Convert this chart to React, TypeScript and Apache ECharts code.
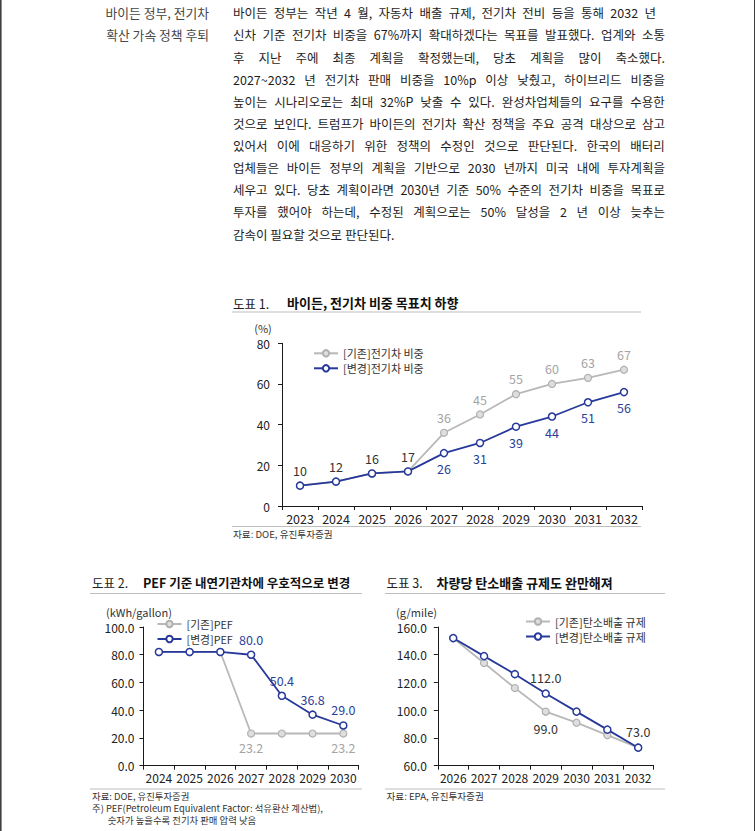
import React, { useEffect, useRef } from "react";
import * as echarts from "echarts";

const FONT = '"Noto Sans CJK KR", "Noto Sans", sans-serif';

const headingLines = ["바이든 정부, 전기차", "확산 가속 정책 후퇴"];
const paraLines = [
  "바이든 정부는 작년 4 월, 자동차 배출 규제, 전기차 전비 등을 통해 2032 년",
  "신차 기준 전기차 비중을 67%까지 확대하겠다는 목표를 발표했다. 업계와 소통",
  "후 지난 주에 최종 계획을 확정했는데, 당초 계획을 많이 축소했다.",
  "2027~2032 년 전기차 판매 비중을 10%p 이상 낮췄고, 하이브리드 비중을",
  "높이는 시나리오로는 최대 32%P 낮출 수 있다. 완성차업체들의 요구를 수용한",
  "것으로 보인다. 트럼프가 바이든의 전기차 확산 정책을 주요 공격 대상으로 삼고",
  "있어서 이에 대응하기 위한 정책의 수정인 것으로 판단된다. 한국의 배터리",
  "업체들은 바이든 정부의 계획을 기반으로 2030 년까지 미국 내에 투자계획을",
  "세우고 있다. 당초 계획이라면 2030년 기준 50% 수준의 전기차 비중을 목표로",
  "투자를 했어야 하는데, 수정된 계획으로는 50% 달성을 2 년 이상 늦추는",
  "감속이 필요할 것으로 판단된다.",
];

// Chart 1
const years1 = ["2023", "2024", "2025", "2026", "2027", "2028", "2029", "2030", "2031", "2032"];
const evOld = [10, 12, 16, 17, 36, 45, 55, 60, 63, 67];
const evNew = [10, 12, 16, 17, 26, 31, 39, 44, 51, 56];
const yTicks1 = { min: 0, max: 80, interval: 20 };

// Chart 2
const years2 = ["2024", "2025", "2026", "2027", "2028", "2029", "2030"];
const pefOld = [82, 82, 82, 23.2, 23.2, 23.2, 23.2];
const pefNew = [82, 82, 82, 80.0, 50.4, 36.8, 29.0];
const yTicks2 = { min: 0, max: 100, interval: 20 };

// Chart 3
const years3 = ["2026", "2027", "2028", "2029", "2030", "2031", "2032"];
const co2Old = [152, 134, 116, 99, 91, 82, 73];
const co2New = [152, 139, 126, 112, 99, 86, 73];
const yTicks3 = { min: 60, max: 160, interval: 20 };

const note2Lines = [
  "자료: DOE, 유진투자증권",
  "주) PEF(Petroleum Equivalent Factor: 석유환산 계산법),",
  "\u3000   숫자가 높을수록 전기차 판매 압력 낮음",
];

const GRAY_LINE = "#b8b8b8";
const GRAY_FILL = "#dedede";
const GRAY_BORDER = "#b0b0b0";
const NAVY = "#27399a";
const LABEL_GRAY = "#a4a4a4";
const LABEL_NAVY = "#2b3f9b";
const DARK = "#333333";
const RULE = "#bdbdbd";

function txt(text: string, x: number, y: number, size: number, opts: any = {}) {
  return {
    type: "text",
    silent: true,
    x,
    y,
    style: {
      text,
      fontSize: size,
      fontFamily: FONT,
      fontWeight: opts.bold ? "bold" : "normal",
      fill: opts.color || "#222",
      align: opts.align || "left",
      verticalAlign: opts.valign || "middle",
      lineHeight: opts.lineHeight || Math.round(size * 1.15),
    },
  };
}
function hline(x1: number, x2: number, y: number) {
  return {
    type: "line",
    silent: true,
    shape: { x1, y1: y, x2, y2: y },
    style: { stroke: RULE, lineWidth: 1 },
  };
}

function xAxisCfg(gridIndex: number, data: string[], margin: number, size: number) {
  return {
    type: "category",
    gridIndex,
    data,
    boundaryGap: true,
    axisLine: { show: true, lineStyle: { color: "#1a1a1a", width: 1 } },
    axisTick: { show: true, length: 4, lineStyle: { color: "#1a1a1a" } },
    axisLabel: { color: "#222", fontSize: size, fontFamily: FONT, margin, interval: 0 },
    splitLine: { show: false },
  };
}
function yAxisCfg(gridIndex: number, t: any, margin: number, fmt?: (v: number) => string) {
  return {
    type: "value",
    gridIndex,
    min: t.min,
    max: t.max,
    interval: t.interval,
    axisLine: { show: true, lineStyle: { color: "#1a1a1a", width: 1 } },
    axisTick: { show: true, length: 4, lineStyle: { color: "#1a1a1a" } },
    axisLabel: {
      color: "#222",
      fontSize: 12,
      fontFamily: FONT,
      margin,
      formatter: fmt ? (v: number) => fmt(v) : undefined,
    },
    splitLine: { show: false },
  };
}

const grayStyle = {
  type: "line",
  symbol: "circle",
  symbolSize: 7,
  lineStyle: { color: GRAY_LINE, width: 1.8 },
  itemStyle: { color: GRAY_FILL, borderColor: GRAY_BORDER, borderWidth: 1.2 },
  z: 2,
  silent: true,
  emphasis: { disabled: true },
};
const navyStyle = {
  type: "line",
  symbol: "circle",
  symbolSize: 7,
  lineStyle: { color: NAVY, width: 1.8 },
  itemStyle: { color: "#ffffff", borderColor: NAVY, borderWidth: 1.5 },
  z: 3,
  silent: true,
  emphasis: { disabled: true },
};

function legendCfg(names: string[], left: number, top: number, gap: number, size: number) {
  return {
    data: names,
    orient: "vertical",
    left,
    top,
    padding: 0,
    itemWidth: 24,
    itemHeight: 8,
    itemGap: gap,
    selectedMode: false,
    textStyle: { fontSize: size, color: DARK, fontFamily: FONT, lineHeight: 11 },
  };
}

function buildOption() {
  const f1 = (v: number) => v.toFixed(1);
  return {
    animation: false,
    textStyle: { fontFamily: FONT },
    legend: [
      legendCfg(["[기존]전기차 비중", "[변경]전기차 비중"], 313, 347.8, 4, 11),
      legendCfg(["[기존]PEF", "[변경]PEF"], 156.5, 618.5, 4, 10.8),
      legendCfg(["[기존]탄소배출 규제", "[변경]탄소배출 규제"], 525, 616, 4, 11),
    ],
    grid: [
      { left: 282, top: 343.3, width: 360, height: 162.7, outerBoundsMode: "none" },
      { left: 143.5, top: 627, width: 215.2, height: 138.7, outerBoundsMode: "none" },
      { left: 437.8, top: 627, width: 215.8, height: 138.7, outerBoundsMode: "none" },
    ],
    xAxis: [xAxisCfg(0, years1, 6, 12.5), xAxisCfg(1, years2, 6, 12), xAxisCfg(2, years3, 6, 12)],
    yAxis: [yAxisCfg(0, yTicks1, 12), yAxisCfg(1, yTicks2, 9, f1), yAxisCfg(2, yTicks3, 11, f1)],
    series: [
      {
        ...grayStyle,
        name: "[기존]전기차 비중",
        xAxisIndex: 0,
        yAxisIndex: 0,
        label: { show: true, position: "top", fontSize: 12.5, fontFamily: FONT, distance: 5 },
        data: evOld.map((v, i) => ({ value: v, label: { color: i < 4 ? DARK : LABEL_GRAY } })),
      },
      {
        ...navyStyle,
        name: "[변경]전기차 비중",
        xAxisIndex: 0,
        yAxisIndex: 0,
        label: { show: true, position: "bottom", fontSize: 12.5, fontFamily: FONT, color: LABEL_NAVY, distance: 5 },
        data: evNew.map((v, i) => ({ value: v, label: { show: i >= 4 } })),
      },
      {
        ...grayStyle,
        name: "[기존]PEF",
        xAxisIndex: 1,
        yAxisIndex: 1,
        label: {
          show: true,
          position: "bottom",
          fontSize: 12.5,
          fontFamily: FONT,
          color: LABEL_GRAY,
          distance: 4,
          formatter: (p: any) => Number(p.value).toFixed(1),
        },
        data: pefOld.map((v, i) => ({ value: v, label: { show: i === 3 || i === 6 } })),
      },
      {
        ...navyStyle,
        name: "[변경]PEF",
        xAxisIndex: 1,
        yAxisIndex: 1,
        label: {
          show: true,
          position: "top",
          fontSize: 12.5,
          fontFamily: FONT,
          color: LABEL_NAVY,
          distance: 5,
          formatter: (p: any) => Number(p.value).toFixed(1),
        },
        data: pefNew.map((v, i) => ({ value: v, label: { show: i >= 3 } })),
      },
      {
        ...grayStyle,
        name: "[기존]탄소배출 규제",
        xAxisIndex: 2,
        yAxisIndex: 2,
        label: {
          show: true,
          position: "bottom",
          fontSize: 12.5,
          fontFamily: FONT,
          color: DARK,
          distance: 7,
          formatter: (p: any) => Number(p.value).toFixed(1),
        },
        data: co2Old.map((v, i) => ({ value: v, label: { show: i === 3 } })),
      },
      {
        ...navyStyle,
        name: "[변경]탄소배출 규제",
        xAxisIndex: 2,
        yAxisIndex: 2,
        label: {
          show: true,
          position: "top",
          fontSize: 12.5,
          fontFamily: FONT,
          color: DARK,
          distance: 6,
          formatter: (p: any) => Number(p.value).toFixed(1),
        },
        data: co2New.map((v, i) => ({ value: v, label: { show: i === 3 || i === 6 } })),
      },
    ],
    graphic: [
      { type: "rect", silent: true, shape: { x: 0, y: 0, width: 1.6, height: 831 }, style: { fill: "#3f3f3f" } },
      { type: "rect", silent: true, shape: { x: 754, y: 0, width: 1, height: 831 }, style: { fill: "#3f3f3f" } },
      // Chart 1
      txt("도표 1.", 233, 303, 12.5),
      txt("바이든, 전기차 비중 목표치 하향", 287, 302.5, 13, { bold: true, color: "#111" }),
      hline(232, 641, 312),
      txt("(%)", 263, 328, 11, { align: "center", color: DARK }),
      hline(232, 641, 526.5),
      txt("자료: DOE, 유진투자증권", 233, 534.3, 9.6, { color: DARK, lineHeight: 10 }),
      // Chart 2
      txt("도표 2.", 92, 582.5, 12.5),
      txt("PEF 기준 내연기관차에 우호적으로 변경", 143, 582, 12.5, { bold: true, color: "#111" }),
      hline(90, 362, 593.5),
      txt("(kWh/gallon)", 106, 611.7, 11, { color: DARK }),
      hline(90, 362, 789),
      txt(note2Lines.join("\n"), 92, 789.6, 9.4, { color: DARK, lineHeight: 12.2, valign: "top" }),
      // Chart 3
      txt("도표 3.", 386.5, 582.5, 12.5),
      txt("차량당 탄소배출 규제도 완만해져", 436.5, 582, 13, { bold: true, color: "#111" }),
      hline(385, 665, 593.5),
      txt("(g/mile)", 396, 611.7, 11, { color: DARK }),
      hline(385, 665, 789),
      txt("자료: EPA, 유진투자증권", 386.5, 795.7, 9.6, { color: DARK, lineHeight: 10 }),
    ],
  };
}

export default function App() {
  const ref = useRef<HTMLDivElement>(null);
  useEffect(() => {
    if (!ref.current) return;
    const chart = echarts.init(ref.current, null, { renderer: "svg", width: 755, height: 831 });
    chart.setOption(buildOption() as any);
    return () => chart.dispose();
  }, []);

  const LH = 22.15;
  return (
    <div
      style={{
        position: "absolute",
        left: 0,
        top: 0,
        width: 755,
        height: 831,
        background: "#fff",
        overflow: "hidden",
        fontFamily: FONT,
      }}
    >
      <div ref={ref} style={{ position: "absolute", left: 0, top: 0, width: 755, height: 831 }} />
      <div
        style={{
          position: "absolute",
          right: 755 - 209,
          top: 13.3 - LH / 2,
          textAlign: "right",
          fontSize: 12.8,
          lineHeight: `${LH}px`,
          color: "#474747",
          whiteSpace: "nowrap",
        }}
      >
        {headingLines.map((h, i) => (
          <div key={i}>{h}</div>
        ))}
      </div>
      <div
        style={{
          position: "absolute",
          left: 233,
          top: 13.3 - LH / 2,
          width: 432,
          fontSize: 12.5,
          lineHeight: `${LH}px`,
          color: "#1e1e1e",
        }}
      >
        {paraLines.map((ln, i) => {
          const last = i === paraLines.length - 1;
          const words = ln.split(" ");
          return (
            <div
              key={i}
              style={{
                display: "flex",
                justifyContent: last ? "flex-start" : "space-between",
                width: i === 0 ? 423 : 432,
                height: LH,
                whiteSpace: "nowrap",
              }}
            >
              {last ? <span>{ln}</span> : words.map((w, j) => <span key={j}>{w}</span>)}
            </div>
          );
        })}
      </div>
    </div>
  );
}
